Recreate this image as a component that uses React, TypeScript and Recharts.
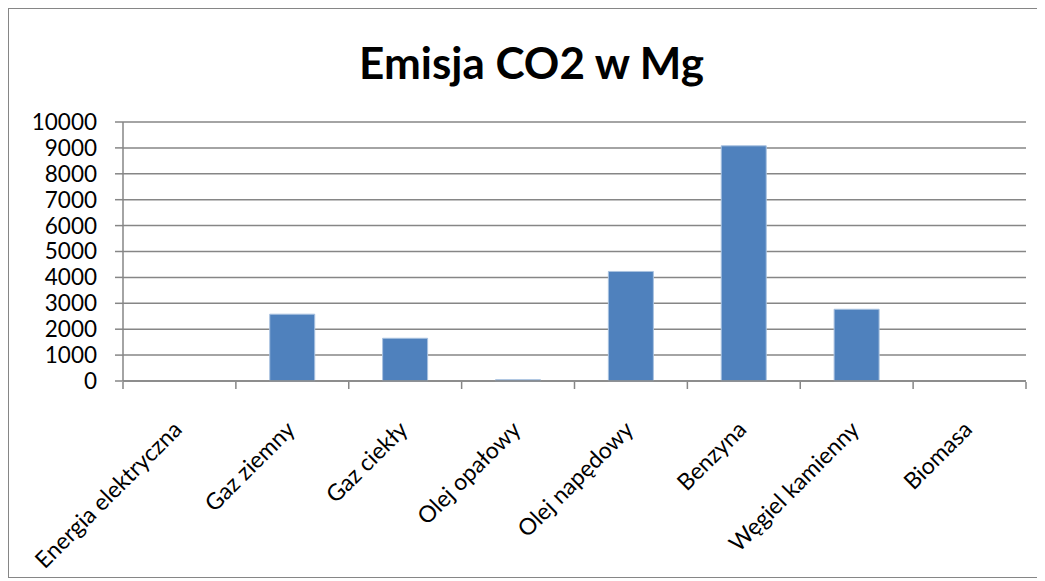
import React from "react";
import { BarChart, Bar, XAxis, YAxis, CartesianGrid } from "recharts";

const categories = [
  "Energia elektryczna",
  "Gaz ziemny",
  "Gaz ciekły",
  "Olej opałowy",
  "Olej napędowy",
  "Benzyna",
  "Węgiel kamienny",
  "Biomasa",
];
const emissions = [0, 2580, 1650, 50, 4230, 9080, 2770, 0];
const yTicks = [0, 1000, 2000, 3000, 4000, 5000, 6000, 7000, 8000, 9000, 10000];
const boundaryTicks = [0, 1, 2, 3, 4, 5, 6, 7, 8];

const chartData = categories.map((name, i) => ({ name, value: emissions[i] }));

const GRID = "#868686";
const FONT = "Lato, 'Open Sans', sans-serif";

function CategoryTick(props: any) {
  const { x, y, payload } = props;
  const tx = x + 4;
  const ty = y;
  return (
    <text
      x={tx}
      y={ty}
      transform={`rotate(-45, ${tx}, ${ty})`}
      textAnchor="end"
      fill="#000"
      fontSize={23}
      fontFamily={FONT}
    >
      {payload.value}
    </text>
  );
}

const NoLabel = () => <g />;

export default function App() {
  return (
    <div
      style={{
        position: "relative",
        width: 1028,
        height: 568,
        border: `1px solid ${GRID}`,
        background: "#fff",
        fontFamily: FONT,
      }}
    >
      <div
        style={{
          position: "absolute",
          top: 26,
          left: 0,
          width: 1045,
          textAlign: "center",
          fontSize: 44,
          fontWeight: 700,
          lineHeight: "54px",
          color: "#000",
        }}
      >
        Emisja CO2 w Mg
      </div>
      <BarChart
        width={1028}
        height={568}
        data={chartData}
        margin={{ top: 113, right: 11, bottom: 0, left: 0 }}
        barCategoryGap="30%"
      >
        <CartesianGrid vertical={false} stroke={GRID} strokeWidth={1.5} />
        <XAxis
          dataKey="name"
          xAxisId="cat"
          interval={0}
          tickLine={false}
          tickSize={0}
          tickMargin={50}
          axisLine={{ stroke: GRID, strokeWidth: 1.5 }}
          height={1}
          tick={<CategoryTick />}
        />
        <XAxis
          xAxisId="edges"
          type="number"
          dataKey="value"
          domain={[0, 8]}
          allowDataOverflow
          ticks={boundaryTicks}
          interval={0}
          height={195}
          axisLine={false}
          tick={<NoLabel />}
          tickLine={{ stroke: GRID, strokeWidth: 1.5 }}
          tickSize={7}
          orientation="bottom"
        />
        <YAxis
          domain={[0, 10000]}
          ticks={yTicks}
          interval={0}
          width={114}
          tickSize={8}
          tickMargin={18}
          tickLine={{ stroke: GRID, strokeWidth: 1.5 }}
          axisLine={{ stroke: GRID, strokeWidth: 1.5 }}
          tick={{ fill: "#000", fontSize: 22.5, fontFamily: FONT }}
        />
        <Bar
          dataKey="value"
          xAxisId="cat"
          fill="#4F81BD"
          stroke="#A9C2E0"
          strokeWidth={1}
          isAnimationActive={false}
        />
      </BarChart>
    </div>
  );
}
